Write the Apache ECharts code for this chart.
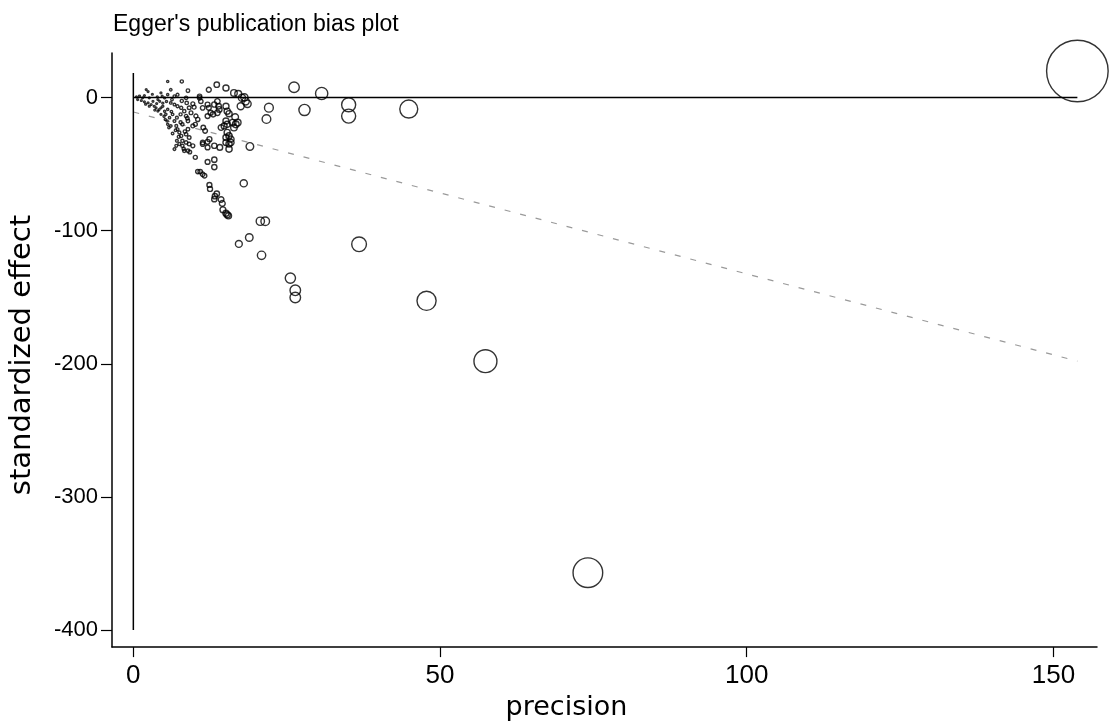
<!DOCTYPE html>
<html>
<head>
<meta charset="utf-8">
<script src="https://cdn.jsdelivr.net/npm/echarts@6/dist/echarts.min.js"></script>
<style>
html,body{margin:0;padding:0;background:#fff;}
#chart{width:1109px;height:726px;}
</style>
</head>
<body>
<div id="chart"></div>
<script>
// ---- data: [precision, standardized effect] ----
const titleText = "Egger's publication bias plot";
const xName = 'precision';
const yName = 'standardized effect';
const xTicks = [0, 50, 100, 150];
const yTicks = [0, -100, -200, -300, -400];

const largeStudies = [
  [153.9, 20.0], [74.1, -356.9], [57.4, -198.0], [47.8, -152.7], [36.8, -110.2],
  [44.9, -8.6], [35.1, -5.4], [35.1, -13.9], [26.2, 7.8], [30.7, 3.1],
  [22.1, -7.6], [21.7, -16.1], [27.9, -9.3]
];
const midStudies = [
  [20.7, -92.9], [21.5, -92.9], [17.2, -109.9], [18.9, -105.1], [20.9, -118.5],
  [25.6, -135.6], [26.4, -144.8], [26.4, -150.2],
  [18.0, -64.4], [10.1, -44.9], [12.1, -48.3], [13.2, -46.6], [13.2, -52.2],
  [10.5, -55.6], [10.9, -55.6], [11.3, -57.6], [11.6, -58.7], [12.4, -65.6],
  [12.5, -68.6], [13.6, -72.2], [13.3, -74.1], [13.2, -76.3], [14.3, -76.6],
  [14.5, -79.5], [14.6, -84.3], [15.1, -86.9], [15.5, -88.8], [15.3, -88.0],
  [8.6, -33.7], [9.1, -34.9], [9.7, -36.2], [8.3, -40.0], [8.9, -40.0],
  [9.2, -40.9], [11.3, -34.9], [12.1, -33.2], [12.1, -37.4], [14.1, -37.4],
  [15.6, -38.7], [15.1, -33.7], [15.9, -33.7], [19.0, -36.7]
];
const upperStudies = [
  [12.3, 5.9], [13.6, 9.7], [15.1, 7.2], [17.1, 2.8], [17.7, -0.2], [18.1, 0.2],
  [18.3, -2.8], [17.5, -6.5], [18.6, -4.7], [10.8, -0.2], [11.0, -2.8], [9.7, -4.7],
  [9.9, -7.2], [12.1, -5.2], [12.3, -7.7], [13.7, -2.8], [13.9, -6.5], [14.0, -8.9],
  [15.1, -6.5], [15.3, -10.2], [15.6, -12.1], [16.6, -14.6], [16.2, -18.8], [17.0, -18.8],
  [10.2, -13.9], [10.5, -16.4], [12.1, -13.9], [12.6, -11.4], [13.0, -12.6], [15.1, -17.6],
  [15.3, -20.1], [14.8, -21.3], [14.3, -22.5], [16.7, -20.1], [16.4, -22.5], [9.7, -21.3],
  [10.1, -20.1], [11.4, -22.5], [11.7, -25.0], [15.3, -26.2], [15.6, -28.8], [15.1, -30.0],
  [15.9, -31.2], [15.6, -34.9], [11.3, -33.7], [12.4, -31.2], [13.2, -36.2],
  [16.4, 3.5], [8.9, 5.2], [10.8, 1.0], [8.6, -0.2], [9.4, -11.4], [11.3, -7.7],
  [13.2, -5.2], [13.7, -11.4]
];
const smallStudies = [
  [2.1, 6.0], [5.6, 12.1], [7.9, 12.1], [6.1, 5.9], [7.2, 2.2], [4.5, 3.5], [2.4, 4.5],
  [2.4, -4.0], [2.9, -5.2], [3.4, -6.5], [4.3, -2.8], [4.5, -7.7], [5.1, -10.2],
  [4.8, -6.5], [5.3, -12.6], [5.6, -8.9], [5.9, -15.1], [5.5, -17.6], [6.4, -12.6],
  [6.7, -17.6], [7.0, -21.3], [7.2, -23.8], [6.1, -21.3], [7.5, -26.2], [7.8, -28.8],
  [7.1, -32.5], [7.5, -34.9], [8.0, -32.5], [7.0, -36.2], [6.7, -38.7], [8.0, -36.2],
  [4.0, -1.5], [3.2, -2.8], [6.1, -4.0], [6.7, -5.2], [7.2, -6.5], [7.8, -7.7],
  [8.3, -10.2], [7.7, -12.6], [7.1, -15.1], [8.0, -20.1], [5.6, -20.1], [5.2, -16.4],
  [4.5, -12.6], [4.0, -10.2], [3.7, -7.7], [2.6, -6.5], [1.8, -3.2], [1.3, -2.2],
  [0.7, -1.5], [1.5, -0.2], [2.6, -0.2], [5.1, -0.2], [8.9, -23.8], [8.6, -27.5],
  [9.1, -30.0], [8.6, -13.9], [8.9, -17.6], [9.1, -7.7], [8.7, -4.0], [5.6, 2.2],
  [6.7, 1.0], [0.5, 0.5], [1.0, 1.2], [1.8, 1.5], [3.1, 2.5],
  [3.8, -4.5], [4.2, -9.0], [5.0, -14.0], [6.2, -10.5], [6.9, -24.5], [7.4, -29.5],
  [8.2, -38.5], [6.4, -27.0], [5.8, -22.5], [3.5, -9.5], [2.0, -5.0], [4.7, 1.0],
  [3.9, 0.6], [6.3, -1.5], [7.9, -2.5], [8.8, -15.5], [8.4, -25.5], [7.7, -18.5],
  [4.8, -4.2], [5.4, -3.0]
];
const zeroLine = [[0, 0], [153.9, 0]];
const interceptCI = [[0, 18.5], [0, -400]];
const eggerLine = [[0, -10.8], [153.9, -198.0]];

// ---- chart ----
const FONT = '"Liberation Sans", Arial, Helvetica, sans-serif';
const WIDE = '"DejaVu Sans", "Liberation Sans", sans-serif';
const chart = echarts.init(document.getElementById('chart'), null, {renderer: 'canvas'});
const allStudies = [].concat(smallStudies, upperStudies, midStudies, largeStudies);

chart.setOption({
  animation: false,
  backgroundColor: '#fff',
  title: {
    text: titleText, left: 108, top: 8,
    textStyle: {fontFamily: FONT, fontSize: 23, fontWeight: 'normal', color: '#000'}
  },
  grid: {left: 109, right: 12, top: 53, bottom: 63, containLabel: false},
  xAxis: {
    type: 'value', min: -3.48, max: 157.1,
    name: xName, nameLocation: 'middle', nameGap: 32,
    nameTextStyle: {fontFamily: WIDE, fontSize: 27, color: '#000', padding: [0, 76, 0, 0]},
    axisLine: {show: true, onZero: false, lineStyle: {color: '#000', width: 1.5}},
    axisTick: {show: true, length: 10, customValues: xTicks, lineStyle: {color: '#000', width: 1.2}},
    axisLabel: {customValues: xTicks, margin: 16, fontFamily: FONT, fontSize: 26, color: '#000'},
    splitLine: {show: false}
  },
  yAxis: {
    type: 'value', min: -412.8, max: 33.5,
    name: yName, nameLocation: 'middle', nameGap: 75,
    nameTextStyle: {fontFamily: WIDE, fontSize: 29, color: '#000', padding: [0, 10, 0, 0]},
    axisLine: {show: true, onZero: false, lineStyle: {color: '#000', width: 1.5}},
    axisTick: {show: true, length: 11, customValues: yTicks, lineStyle: {color: '#000', width: 1.2}},
    axisLabel: {customValues: yTicks, margin: 14, fontFamily: FONT, fontSize: 22, color: '#000'},
    splitLine: {show: false}
  },
  series: [
    {
      type: 'line', data: eggerLine, symbol: 'none', silent: true, z: 1,
      lineStyle: {color: '#9a9a9a', width: 1.2, type: [6, 10]}
    },
    {
      type: 'line', data: zeroLine, symbol: 'none', silent: true, z: 2,
      lineStyle: {color: '#000', width: 1.5}
    },
    {
      type: 'line', data: interceptCI, symbol: 'none', silent: true, z: 2,
      lineStyle: {color: '#000', width: 1.5}
    },
    {
      type: 'scatter', data: allStudies, z: 3,
      symbol: 'circle',
      symbolSize: function (v) { return Math.max(1.8, 0.4 * v[0]); },
      itemStyle: {color: 'rgba(0,0,0,0)', borderColor: '#000', borderWidth: 1.4}
    }
  ]
});
</script>
</body>
</html>
